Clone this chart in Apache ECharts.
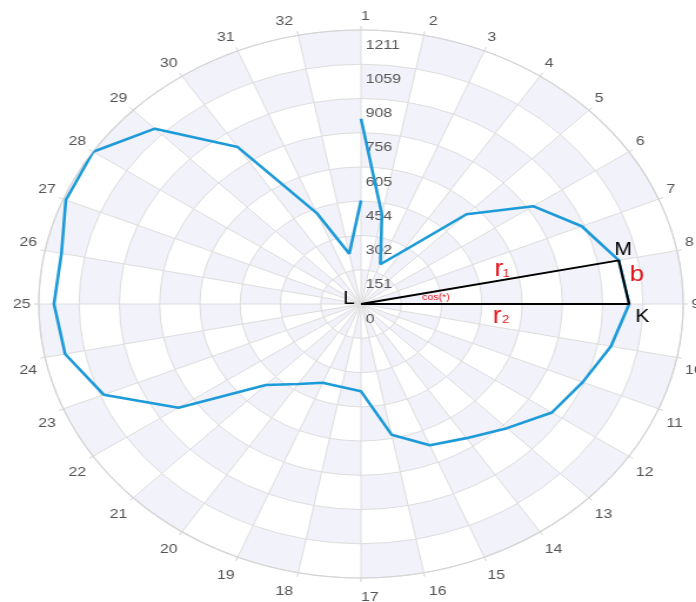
<!DOCTYPE html>
<html><head><meta charset="utf-8">
<script src="https://cdn.jsdelivr.net/npm/echarts@6/dist/echarts.min.js"></script>
<style>
html,body{margin:0;padding:0;background:#fff;overflow:hidden;}
#wrap{position:absolute;left:0;top:0;width:696px;height:602px;overflow:hidden;background:#fff;}
#chart{position:absolute;left:0;top:0;height:602px;transform-origin:0 0;}
</style></head><body>
<div id="wrap"><div id="chart"></div></div>
<script>
// ---- data ----
const angleLabels = ['1','2','3','4','5','6','7','8','9','10','11','12','13','14','15','16',
  '17','18','19','20','21','22','23','24','25','26','27','28','29','30','31','32'];
const radiusTickLabels = ['0','151','302','454','605','756','908','1059','1211'];
const radiusMax = 1211;
// values at spokes 1..32, then back at spoke 1 (line is not closed)
const blueValues = [819,403,190,278,561,778,898,988,1008,958,902,863,776,713,676,589,
  386,374,377,425,506,825,1047,1134,1154,1148,1201,1211,1096,834,435,226,457];
const pointM = 7;   // spoke 8
const pointK = 8;   // spoke 9

// ---- layout ----
const SX = 321 / 273;              // horizontal stretch of the ellipse
const W = 696 / SX;
const CX = 361 / SX, CY = 304, R = 274;
const el = document.getElementById('chart');
el.style.width = W + 'px';
el.style.transform = 'scaleX(' + SX + ')';

const chart = echarts.init(el, null, {renderer: 'canvas'});
const nSect = angleLabels.length;
const nRing = radiusTickLabels.length - 1;
const ringStep = radiusMax / nRing;
const shade = '#f2f2fa';
const FONT = 'Liberation Sans';
const FS = 13.5;
const labelColor = '#555';

// checkerboard background cells
const bgSeries = [];
for (let k = 0; k < nRing; k++) {
  bgSeries.push({
    type: 'bar', coordinateSystem: 'polar', polarIndex: 0, stack: 'bg', silent: true,
    barCategoryGap: '0%', z: -5,
    data: angleLabels.map((_, j) => ({value: ringStep,
      itemStyle: {color: (j + k) % 2 === 0 ? shade : 'rgba(255,255,255,0)'}}))
  });
}

const lineData = blueValues.map((v, i) => [v, i]);
const triData = [[0, pointM], [blueValues[pointM], pointM], [blueValues[pointK], pointK], [0, pointK]];

// angle label styling: labels near the vertical/horizontal get side-aligned like the reference
const charW = 0.556 * FS;
const rich = {};
function angleLabel(v) {
  const i = Math.round(v);
  if (i >= nSect) return '';
  const t = angleLabels[i];
  const th = i / nSect * 2 * Math.PI;
  const s = Math.sin(th), c = Math.cos(th);
  const exact = Math.abs(s) < 1e-6;
  const w = t.length * charW + (exact ? 0 : 6);
  const pad = [0, 0, 0, 0];
  if (Math.abs(s) < 0.3) { if (s >= -1e-9) pad[3] = w; else pad[1] = w; }
  if (Math.abs(c) < 0.3 && Math.abs(c) > 1e-6) { if (c > 0) pad[2] = 14; else pad[0] = 22; }
  else if (c < -0.3) pad[0] = 5;
  const key = 'k' + i;
  rich[key] = {padding: pad, fontSize: FS, fontFamily: FONT, color: labelColor};
  return '{' + key + '|' + t + '}';
}
for (let i = 0; i < nSect; i++) angleLabel(i);

chart.setOption({
  animation: false,
  backgroundColor: '#fff',
  polar: [{center: [CX, CY], radius: R}, {center: [CX, CY], radius: R}],
  angleAxis: [
    {polarIndex: 0, type: 'category', data: angleLabels, startAngle: 90, clockwise: true,
     boundaryGap: true, axisLine: {show: false}, axisTick: {show: false}, axisLabel: {show: false},
     splitLine: {show: false}},
    {polarIndex: 1, type: 'value', min: 0, max: nSect, interval: 1, startAngle: 90, clockwise: true,
     axisLine: {show: true, lineStyle: {color: '#d4d4d4', width: 1.2}},
     axisTick: {show: true, length: 4, lineStyle: {color: '#d4d4d4'}},
     axisLabel: {margin: 7, color: labelColor, fontSize: FS, fontFamily: FONT, formatter: angleLabel, rich: rich},
     splitLine: {show: true, lineStyle: {color: '#dedede', width: 1}}}
  ],
  radiusAxis: [
    {polarIndex: 0, type: 'value', min: 0, max: radiusMax, axisLine: {show: false}, axisTick: {show: false},
     axisLabel: {show: false}, splitLine: {show: false}},
    {polarIndex: 1, type: 'value', min: 0, max: radiusMax, interval: ringStep,
     axisLine: {show: false}, axisTick: {show: false},
     axisLabel: {margin: -4, align: 'left', verticalAlign: 'top', padding: [8, 0, 0, 0],
       color: labelColor, fontSize: FS, fontFamily: FONT,
       formatter: v => radiusTickLabels[Math.round(v / ringStep)]},
     splitLine: {show: true, lineStyle: {color: '#dedede', width: 1}}}
  ],
  series: bgSeries.concat([
    {type: 'line', coordinateSystem: 'polar', polarIndex: 1, data: lineData, symbol: 'none',
     lineStyle: {color: '#1d9ad8', width: 2.6}, z: 3},
    {type: 'line', coordinateSystem: 'polar', polarIndex: 1, data: triData, symbol: 'none',
     lineStyle: {color: '#000', width: 2}, z: 4}
  ])
});

// annotations anchored to data points
const triIdx = bgSeries.length + 1;
const P = d => chart.convertToPixel({seriesIndex: triIdx}, d);
const L = P([0, pointM]), M = P(triData[1]), K = P(triData[2]);
const g = (p, text, fill, size) => ({type: 'text', x: p[0], y: p[1], z: 10,
  style: {text: text, fill: fill, font: size + 'px "' + FONT + '"', align: 'center', verticalAlign: 'middle'}});
const red = '#e5141b';
const off = (p, dx, dy) => [p[0] + dx / SX, p[1] + dy];
const mid = (a, b) => [(a[0] + b[0]) / 2, (a[1] + b[1]) / 2];
const items = [
  g(off(L, -12, -5), 'L', '#000', 18),
  g(off(M, 4.5, -10.5), 'M', '#000', 18),
  g(off(K, 13, 13.5), 'K', '#000', 18),
  g(off(mid(M, K), 13, -7.5), 'b', red, 22),
  g(off(mid(L, M), 9, -13), 'r', red, 23),
  g(off(mid(L, M), 16.5, -8.5), '1', red, 11),
  g(off(mid(L, K), 2, 12.5), 'r', red, 23),
  g(off(mid(L, K), 10.5, 16), '2', red, 11),
  g(off(L, 75, -6), 'cos(*)', red, 9)
];
chart.setOption({graphic: items});
</script>
</body></html>
